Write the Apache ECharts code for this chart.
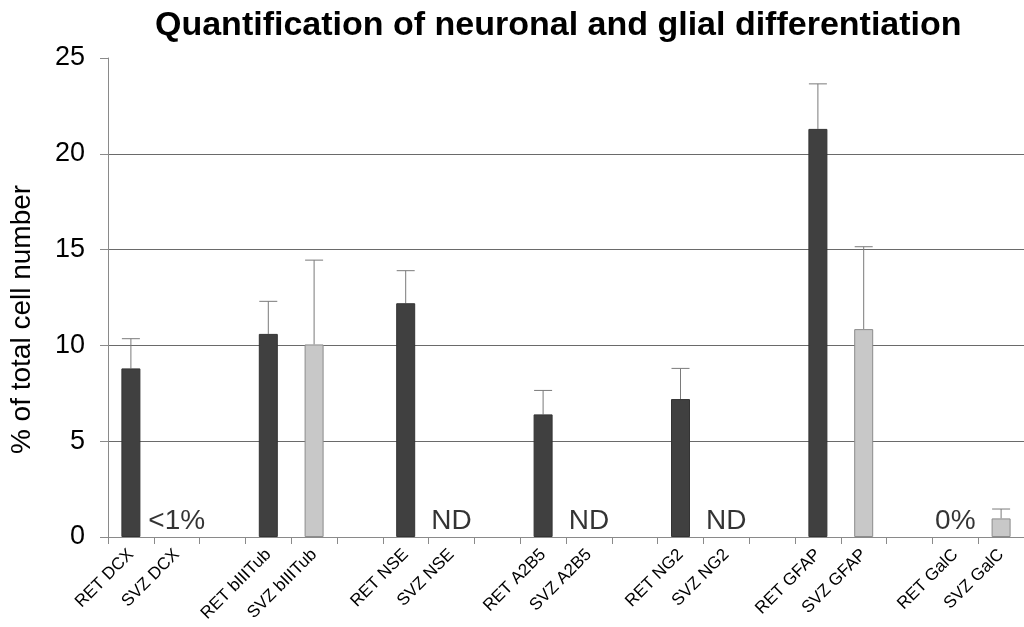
<!DOCTYPE html>
<html>
<head>
<meta charset="utf-8">
<script src="https://cdn.jsdelivr.net/npm/echarts@6/dist/echarts.min.js"></script>
<style>
html,body{margin:0;padding:0;background:#fff;}
#chart{width:1024px;height:627px;}
</style>
</head>
<body>
<div id="chart"></div>
<script>
// Categories (empty strings are spacer slots between marker groups)
const categories = ['RET DCX','SVZ DCX','','RET bIIITub','SVZ bIIITub','','RET NSE','SVZ NSE','','RET A2B5','SVZ A2B5','','RET NG2','SVZ NG2','','RET GFAP','SVZ GFAP','','RET GalC','SVZ GalC'];
// Bar values (% of total cell number); null = no bar
const retValues = [8.8, null, null, 10.6, null, null, 12.2, null, null, 6.4, null, null, 7.2, null, null, 21.3, null, null, null, null];
const svzValues = [null, null, null, null, 10.05, null, null, null, null, null, null, null, null, null, null, null, 10.85, null, null, 0.97];
// Upper error bar ends
const errorTops = [10.35, null, null, 12.3, 14.45, null, 13.9, null, null, 7.65, null, null, 8.8, null, null, 23.65, 15.15, null, null, 1.46];
// Text notes in place of bars
const noteCategories = ['SVZ DCX','SVZ NSE','SVZ A2B5','SVZ NG2','RET GalC'];
const noteTexts = ['<1%','ND','ND','ND','0%'];
const yTicks = [0, 5, 10, 15, 20, 25];

const errData = [];
categories.forEach((c, i) => {
  const v = retValues[i] != null ? retValues[i] : svzValues[i];
  if (v != null && errorTops[i] != null) errData.push([i, v, errorTops[i]]);
});
const noteData = noteCategories.map((c, k) => ({value: [categories.indexOf(c), 0], label: {formatter: noteTexts[k]}}));

const chart = echarts.init(document.getElementById('chart'));
const FONT = 'Liberation Sans, Arial, sans-serif';
chart.setOption({
  animation: false,
  backgroundColor: '#fff',
  title: {
    text: 'Quantification of neuronal and glial differentiation',
    left: 150, top: 4,
    textStyle: {fontFamily: FONT, fontSize: 34, fontWeight: 'bold', color: '#000'}
  },
  grid: {left: 108, right: -6, top: 58, bottom: 90, containLabel: false},
  xAxis: {
    type: 'category',
    data: categories,
    boundaryGap: true,
    axisLine: {lineStyle: {color: '#8a8a8a', width: 1}},
    axisTick: {show: true, interval: 0, length: 7, lineStyle: {color: '#8a8a8a'}},
    axisLabel: {interval: 0, rotate: 45, fontFamily: FONT, fontSize: 17, color: '#000', margin: 15},
    splitLine: {show: false}
  },
  yAxis: {
    type: 'value',
    min: yTicks[0], max: yTicks[yTicks.length - 1], interval: 5,
    name: '% of total cell number',
    nameLocation: 'middle',
    nameGap: 72,
    nameRotate: 90,
    nameTextStyle: {fontFamily: FONT, fontSize: 28, color: '#000', padding: [0, 0, 0, -44]},
    axisLine: {show: true, lineStyle: {color: '#8a8a8a', width: 1}},
    axisTick: {show: true, length: 8, lineStyle: {color: '#8a8a8a'}},
    axisLabel: {fontFamily: FONT, fontSize: 27, color: '#000', margin: 23},
    splitLine: {show: true, lineStyle: {color: '#6a6a6a', width: 1},
      showMaxLine: false}
  },
  series: [
    {
      name: 'RET', type: 'bar', data: retValues, barWidth: 19, barGap: '-100%',
      itemStyle: {color: '#404040', borderColor: '#333', borderWidth: 1}
    },
    {
      name: 'SVZ', type: 'bar', data: svzValues, barWidth: 19, barGap: '-100%',
      itemStyle: {color: '#c8c8c8', borderColor: '#8c8c8c', borderWidth: 1}
    },
    {
      name: 'error', type: 'custom', data: errData, z: 1,
      renderItem: function (params, api) {
        const x = api.value(0);
        const base = api.coord([x, api.value(1)]);
        const top = api.coord([x, api.value(2)]);
        const hw = 9;
        const style = {stroke: '#7a7a7a', lineWidth: 1};
        return {type: 'group', children: [
          {type: 'line', shape: {x1: base[0], y1: base[1], x2: top[0], y2: top[1]}, style: style},
          {type: 'line', shape: {x1: top[0] - hw, y1: top[1], x2: top[0] + hw, y2: top[1]}, style: style}
        ]};
      }
    },
    {
      name: 'notes', type: 'scatter', data: noteData, symbolSize: 0,
      label: {show: true, position: 'top', distance: 2, fontFamily: FONT, fontSize: 28, color: '#000'}
    }
  ]
});
</script>
</body>
</html>
